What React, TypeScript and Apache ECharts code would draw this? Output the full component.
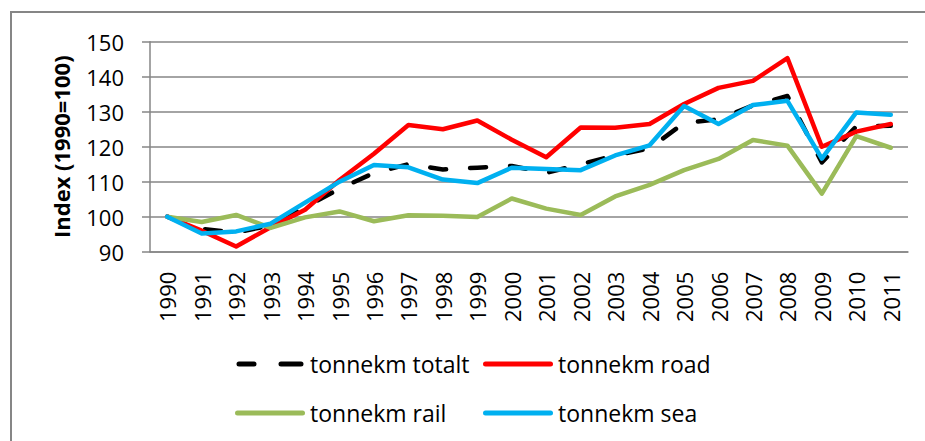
import React, { useEffect, useRef } from "react";
import * as echarts from "echarts";

const years = ["1990","1991","1992","1993","1994","1995","1996","1997","1998","1999","2000","2001","2002","2003","2004","2005","2006","2007","2008","2009","2010","2011"];
const totalt = [100, 96.5, 95.5, 97.5, 102.7, 108, 112.5, 115, 113.5, 114, 114.5, 112.5, 115, 117.5, 119.5, 126.8, 127.8, 131.8, 134.5, 115.5, 125.8, 126];
const road = [100, 96, 91.5, 97, 102, 110.5, 118, 126.2, 125, 127.5, 122, 117, 125.5, 125.4, 126.5, 132.2, 136.8, 138.8, 145.3, 120, 124.3, 126.5];
const rail = [100, 98.5, 100.5, 96.8, 99.8, 101.5, 98.7, 100.4, 100.3, 99.9, 105.2, 102.3, 100.5, 105.8, 109.1, 113.3, 116.5, 121.9, 120.3, 106.6, 123, 119.7];
const sea = [100, 95.2, 95.8, 98, 104, 110, 114.8, 114.1, 110.6, 109.6, 114, 113.6, 113.3, 117.5, 120.4, 131.6, 126.5, 131.9, 133.1, 116.6, 129.8, 129.1];
const yTicks = { min: 90, max: 150, interval: 10 };

const FONT = "Open Sans";
const GRAY = "#868686";

const SOLID_ICON = "path://M2.5,0 H67.5 A2.5,2.5 0 0 1 67.5,5 H2.5 A2.5,2.5 0 0 1 2.5,0 Z";
const DASH_ICON =
  "path://M2.5,0 H17.5 A2.5,2.5 0 0 1 17.5,5 H2.5 A2.5,2.5 0 0 1 2.5,0 Z M44.5,0 H64.5 A2.5,2.5 0 0 1 64.5,5 H44.5 A2.5,2.5 0 0 1 44.5,0 Z";

export default function App() {
  const ref = useRef<HTMLDivElement>(null);
  useEffect(() => {
    if (!ref.current) return;
    const chart = echarts.init(ref.current, null, { renderer: "svg" });
    const lineSeries = (name: string, data: number[], color: string, dashed = false) => ({
      name,
      type: "line",
      data,
      symbol: "none",
      lineStyle: {
        color,
        width: 4.5,
        type: dashed ? [16, 24] : "solid",
        cap: "round",
        join: "round",
      },
      itemStyle: { color },
    });
    const legendCommon = {
      orient: "vertical",
      top: 352,
      itemWidth: 70,
      itemHeight: 5,
      itemGap: 25,
      textStyle: { fontFamily: FONT, fontSize: 23, color: "#000", lineHeight: 24 },
      padding: 0,
    };
    chart.setOption({
      animation: false,
      backgroundColor: "#fff",
      grid: { left: 150, right: 17, top: 41.7, bottom: 189.3, containLabel: false },
      graphic: [
        {
          type: "rect",
          shape: { x: 11, y: 12, width: 940, height: 460 },
          style: { fill: "none", stroke: GRAY, lineWidth: 2 },
          silent: true,
        },
      ],
      legend: [
        {
          ...legendCommon,
          left: 235,
          data: [
            { name: "tonnekm totalt", icon: DASH_ICON },
            { name: "tonnekm rail", icon: SOLID_ICON },
          ],
        },
        {
          ...legendCommon,
          left: 483,
          data: [
            { name: "tonnekm road", icon: SOLID_ICON },
            { name: "tonnekm sea", icon: SOLID_ICON },
          ],
        },
      ],
      xAxis: {
        type: "category",
        data: years,
        boundaryGap: true,
        axisLine: { lineStyle: { color: GRAY, width: 1.5 } },
        axisTick: { inside: true, length: 8, lineStyle: { color: GRAY, width: 1.5 } },
        axisLabel: { rotate: 90, fontFamily: FONT, fontSize: 22, color: "#000", margin: 20, interval: 0 },
      },
      yAxis: {
        type: "value",
        min: yTicks.min,
        max: yTicks.max,
        interval: yTicks.interval,
        name: "Index (1990=100)",
        nameLocation: "middle",
        nameRotate: 90,
        nameGap: 78,
        nameTextStyle: { fontFamily: FONT, fontSize: 22, fontWeight: "bold", color: "#000" },
        axisLine: { show: true, lineStyle: { color: GRAY, width: 1.5 } },
        axisTick: { show: true, length: 8, lineStyle: { color: GRAY, width: 1.5 } },
        splitLine: { lineStyle: { color: GRAY, width: 1.5 } },
        axisLabel: { fontFamily: FONT, fontSize: 22, color: "#000", margin: 26 },
      },
      series: [
        lineSeries("tonnekm totalt", totalt, "#000000", true),
        lineSeries("tonnekm road", road, "#FF0000"),
        lineSeries("tonnekm rail", rail, "#9BBB59"),
        lineSeries("tonnekm sea", sea, "#00B0F0"),
      ],
    });
    return () => chart.dispose();
  }, []);
  return (
    <div
      ref={ref}
      style={{ position: "fixed", left: 0, top: 0, width: 925, height: 441, background: "#fff" }}
    />
  );
}
